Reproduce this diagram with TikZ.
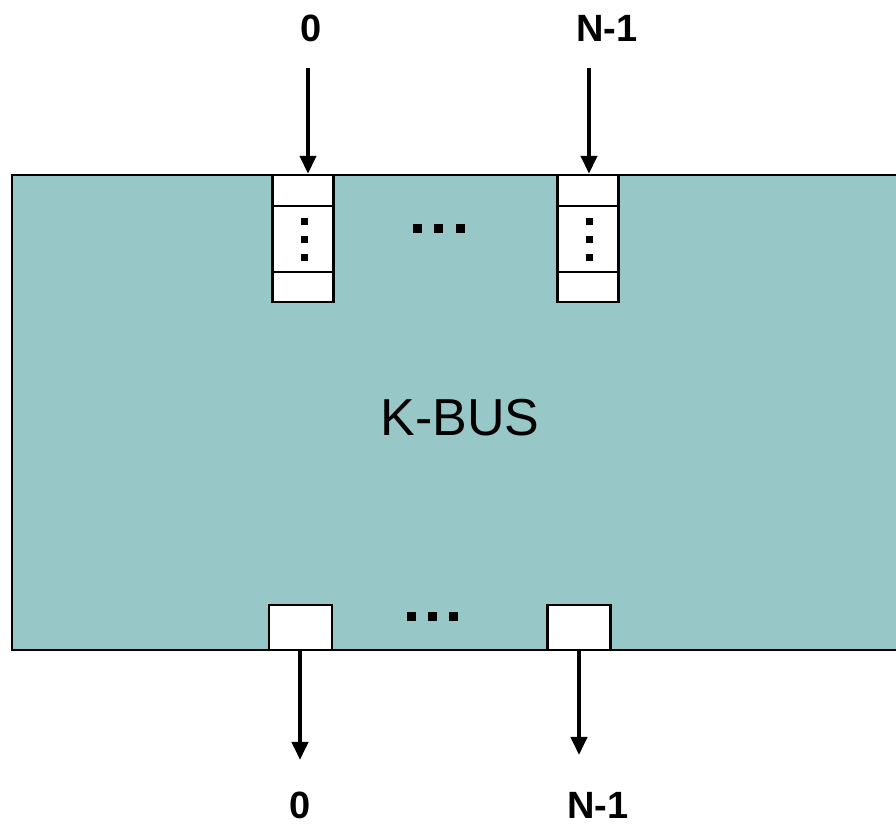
\documentclass[tikz,border=0pt]{standalone}
\usepackage{fontspec}
\setmainfont{Liberation Sans}
\usetikzlibrary{arrows.meta}
\definecolor{busteal}{RGB}{151,199,198}
\begin{document}
\begin{tikzpicture}[
    x=0.5pt, y=-0.5pt,
    bus/.style={draw, line width=1pt, fill=busteal, minimum width=449pt, minimum height=237.5pt, inner sep=0pt},
    cell/.style={draw, line width=1.2pt, fill=white, minimum width=30.5pt, inner sep=0pt},
    port/.style={draw, line width=1.2pt, fill=white, minimum width=31.5pt, minimum height=22.5pt, inner sep=0pt},
    lbl/.style={font=\bfseries\fontsize{19pt}{19pt}\selectfont, inner sep=0pt},
    arr/.style={line width=2pt, -{Triangle[width=8pt,length=9pt]}},
    dot/.style={fill=black}
  ]
  \clip (0,0) rectangle (896,828);
  \useasboundingbox (0,0) rectangle (896,828);
  \node[bus] (bus) at (461,412.5) {};
  \node[font=\fontsize{26pt}{26pt}\selectfont, inner sep=0pt] (kbus) at (460,418) {K-BUS};
  % input buffers
  \node[cell, minimum height=15.5pt] (ina) at (303,190.5) {};
  \node[cell, minimum height=33pt] (inb) at (303,239) {};
  \node[cell, minimum height=15pt] (inc) at (303,287) {};
  \node[cell, minimum height=15.5pt] (ma) at (588,190.5) {};
  \node[cell, minimum height=33pt] (mb) at (588,239) {};
  \node[cell, minimum height=15pt] (mc) at (588,287) {};
  \foreach \x in {304,589}
    \foreach \y in {222,240,258}
      \fill[dot] (\x-3.5,\y-3.5) rectangle (\x+3.5,\y+3.5);
  \foreach \x in {417,438,460}
    \fill[dot] (\x-4.5,229-4.5) rectangle (\x+4.5,229+4.5);
  % output ports
  \node[port] (out0) at (300.5,627.5) {};
  \node[port] (outm) at (579,627.5) {};
  \foreach \x in {411,432,453}
    \fill[dot] (\x-4.5,617-4.5) rectangle (\x+4.5,617+4.5);
  % labels and arrows
  \node[lbl] (top0) at (311,28) {0};
  \node[lbl] (topm) at (607,28) {N-1};
  \node[lbl] (bot0) at (300,805) {0};
  \node[lbl] (botm) at (598,805) {N-1};
  \coordinate (s0) at (308,68);
  \coordinate (sm) at (589,68);
  \coordinate (e0) at (300,760);
  \coordinate (em) at (579,755);
  \draw[arr] (s0) -- (s0 |- ina.north);
  \draw[arr] (sm) -- (sm |- ma.north);
  \draw[arr] (e0 |- out0.south) -- (e0);
  \draw[arr] (outm.south) -- (em);
\end{tikzpicture}
\end{document}
